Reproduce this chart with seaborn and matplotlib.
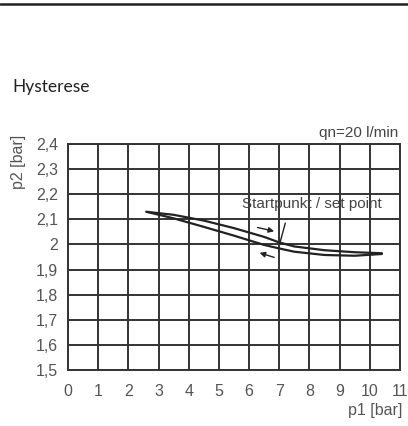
import seaborn as sns
import matplotlib.pyplot as plt
import pandas as pd
import matplotlib
matplotlib.use("Agg")

# hysteresis branches
p1_up = [2.6, 3.5, 4.5, 5.5, 6.5, 7.0, 7.5, 8.5, 9.5, 10.4]
p2_up = [2.13, 2.118, 2.095, 2.065, 2.03, 2.008, 1.992, 1.977, 1.969, 1.965]
p1_down = [2.6, 3.5, 4.5, 5.5, 6.5, 7.0, 7.5, 8.5, 9.5, 10.4]
p2_down = [2.13, 2.104, 2.07, 2.035, 1.998, 1.984, 1.971, 1.958, 1.955, 1.962]

x_ticks = list(range(0, 12))
y_ticks = [1.5, 1.6, 1.7, 1.8, 1.9, 2.0, 2.1, 2.2, 2.3, 2.4]
y_labels = ["1,5", "1,6", "1,7", "1,8", "1,9", "2", "2,1", "2,2", "2,3", "2,4"]

up = pd.DataFrame({"p1": p1_up, "p2": p2_up})
down = pd.DataFrame({"p1": p1_down, "p2": p2_down})

sns.set_style("white")
narrow = ["Liberation Sans Narrow", "Liberation Sans", "DejaVu Sans"]
plt.rcParams["font.family"] = narrow

fig = plt.figure(figsize=(4.08, 4.26), dpi=100)
ax = fig.add_axes([68 / 408, 1 - 370 / 426, 332 / 408, 226 / 426])

sns.lineplot(data=up, x="p1", y="p2", sort=False, color="#222222", lw=1.6, ax=ax)
sns.lineplot(data=down, x="p1", y="p2", sort=False, color="#222222", lw=1.6, ax=ax)

ax.set_xlim(0, 11)
ax.set_ylim(1.5, 2.4)
ax.set_xticks(x_ticks)
ax.set_xticklabels([str(t) for t in x_ticks])
ax.set_yticks(y_ticks)
ax.set_yticklabels(y_labels)
ax.grid(True, color="#333333", lw=1.4)
for s in ax.spines.values():
    s.set_color("#333333")
    s.set_linewidth(1.4)
ax.tick_params(axis="both", direction="out", length=5, width=1.2, color="#444444",
               labelcolor="#555555", labelsize=11.5, pad=2)
ax.tick_params(axis="x", pad=5)
ax.set_xlabel("")
ax.set_ylabel("")

# arrows and annotation
ax.annotate("", xy=(6.92, 2.05), xytext=(6.19, 2.07),
            arrowprops=dict(arrowstyle="-|>", color="#222222", lw=1, mutation_scale=8))
ax.annotate("", xy=(6.26, 1.97), xytext=(6.92, 1.945),
            arrowprops=dict(arrowstyle="-|>", color="#222222", lw=1, mutation_scale=8))
ax.plot([7.2, 7.03], [2.085, 2.01], color="#222222", lw=1)
ax.text(8.08, 2.16, "Startpunkt / set point", ha="center", va="center",
        fontsize=11, color="#444444", family=narrow)

fig.text(398 / 408, 1 - 133 / 426, "qn=20 l/min", ha="right", va="center",
         fontsize=11, color="#444444", family=narrow)
fig.text(18 / 408, 1 - 162 / 426, "p2 [bar]", rotation=90, ha="center", va="center",
         fontsize=11.5, color="#555555", family=narrow)
fig.text(402 / 408, 1 - 411 / 426, "p1 [bar]", ha="right", va="center",
         fontsize=11.5, color="#555555", family=narrow)
fig.text(12 / 408, 1 - 87 / 426, "Hysterese", ha="left", va="center",
         fontsize=12.5, color="#222222", family=["Lato", "DejaVu Sans"])

fig.add_artist(plt.Line2D([0, 1], [1 - 4 / 426, 1 - 4 / 426], color="#222222", lw=1.8))

fig.savefig("out.png", dpi=100)
